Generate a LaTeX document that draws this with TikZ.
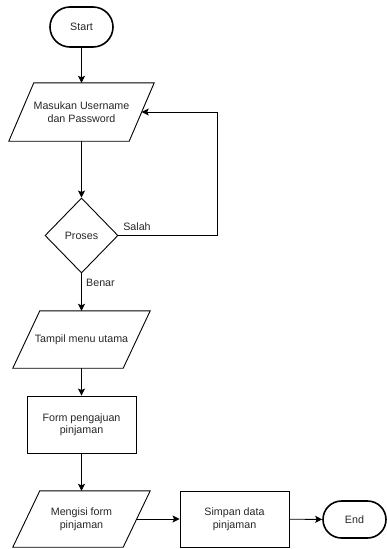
\documentclass[tikz,border=0pt]{standalone}
\usepackage{fontspec}
\setmainfont{Liberation Sans}
\usetikzlibrary{shapes.geometric,arrows.meta,calc}
\newcommand{\drawpara}[2]{%
  \draw[line width=0.9pt] ($(#1.north west)+(#2/2,0)$) -- ($(#1.north east)+(#2/2,0)$) -- ($(#1.south east)-(#2/2,0)$) -- ($(#1.south west)-(#2/2,0)$) -- cycle;}
\begin{document}
\begin{tikzpicture}[x=1pt,y=-1pt,
  every node/.style={font=\fontsize{10.7}{12.5}\selectfont, text=black!85, inner sep=0pt, align=center},
  line/.style={line width=0.9pt, draw=black},
  arr/.style={line, -{Stealth[length=7pt,width=7pt,inset=1.5pt]}},
  term/.style={draw, line width=1.6pt, rounded corners=#1, rectangle},
  io/.style={rectangle},
  proc/.style={draw, line width=0.9pt, rectangle},
  dec/.style={draw, line width=0.9pt, diamond, minimum width=73pt, minimum height=75pt}
]
\useasboundingbox (0,0) rectangle (387,549);
\node[term=20pt, minimum width=63pt, minimum height=40pt] (start) at (81.5,27) {Start};
\node[io, minimum width=120pt, minimum height=58pt] (p1) at (81.5,112) {Masukan Username\\dan Password};
\drawpara{p1}{25}
\node[dec] (dia) at (81.5,235.5) {Proses};
\node[io, minimum width=110pt, minimum height=57pt] (p2) at (81.5,339.5) {Tampil menu utama};
\drawpara{p2}{27}
\node[proc, minimum width=109pt, minimum height=57pt] (r1) at (81.5,424.5) {Form pengajuan\\pinjaman};
\node[io, minimum width=110pt, minimum height=56pt] (p3) at (81.5,519) {Mengisi form\\pinjaman};
\drawpara{p3}{27}
\node[proc, minimum width=109pt, minimum height=56pt] (r2) at (234.5,519) {Simpan data\\pinjaman};
\node[term=18.5pt, minimum width=63pt, minimum height=37pt] (end) at (354.5,519.5) {End};
\coordinate (loopc) at (217,235.5);
\node (salah) at (137,227) {Salah};
\node[anchor=west] (benar) at (86,283) {Benar};
\draw[arr] (start) -- (p1);
\draw[arr] (p1) -- (dia);
\draw[arr] (dia.east) -- (loopc) |- (p1.east);
\draw[arr] (dia) -- (p2);
\draw[arr] (p2) -- (r1);
\draw[arr] (r1) -- (p3);
\draw[arr] (p3.east) -- (r2.west);
\draw[arr] (r2) -- (end);
\end{tikzpicture}
\end{document}
